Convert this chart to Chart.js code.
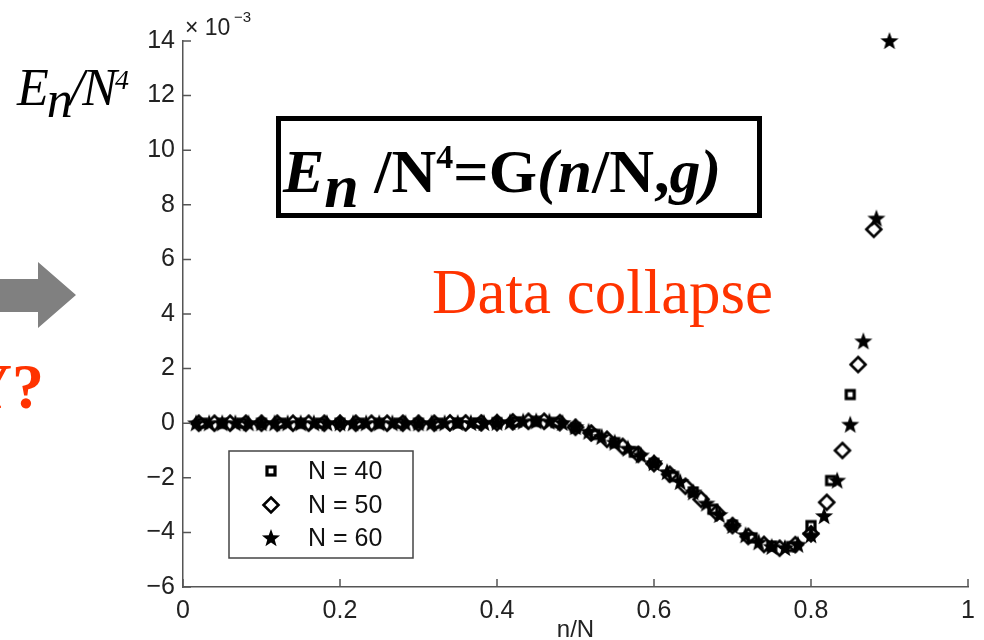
<!DOCTYPE html>
<html>
<head>
<meta charset="utf-8">
<script src="https://cdn.jsdelivr.net/npm/chart.js@4"></script>
<style>
html, body { margin: 0; padding: 0; background: #fff; }
#wrap { position: relative; width: 984px; height: 640px; }
</style>
</head>
<body>
<div id="wrap"><canvas id="grafica" width="984" height="640"></canvas></div>
<script>
// E_n / N^4 in units of 1e-3, for n = 1 .. N-6
var values40 = [0, 0, 0, 0, 0, 0, 0, 0, 0, 0, 0, 0, 0, 0.01, 0.01, 0.02, 0.05, 0.07, 0.03,
    -0.16, -0.41, -0.71, -1.06, -1.47, -1.95, -2.52, -3.15, -3.73, -4.2, -4.5, -4.52, -3.75, -2.1, 1.05];
var values50 = [0, 0, 0, 0, 0, 0, 0, 0, 0, 0, 0, 0, 0, 0, 0, 0, 0.01, 0.01, 0.01, 0.02, 0.05, 0.07, 0.07, 0.02,
    -0.15, -0.36, -0.59, -0.85, -1.14, -1.48, -1.87, -2.31, -2.79, -3.28, -3.75, -4.15, -4.44, -4.58, -4.45,
    -4.05, -2.9, -1.0, 2.15, 7.1];
var values60 = [0, 0, 0, 0, 0, 0, 0, 0, 0, 0, 0, 0, 0, 0, 0, 0, 0, 0, 0, 0, 0.01, 0.01, 0.01, 0.02, 0.04, 0.06,
    0.07, 0.06, 0.01, -0.14, -0.31, -0.5, -0.71, -0.93, -1.18, -1.46, -1.79, -2.15, -2.53, -2.94, -3.36, -3.76,
    -4.1, -4.36, -4.53, -4.57, -4.45, -4.1, -3.4, -2.1, -0.05, 3.0, 7.5, 14.0];
var seriesN = [40, 50, 60];
var seriesLabels = ['N = 40', 'N = 50', 'N = 60'];
var xTicks = [0, 0.2, 0.4, 0.6, 0.8, 1];
var yTicks = [-6, -4, -2, 0, 2, 4, 6, 8, 10, 12, 14];

function toPoints(values, N) {
    return values.map(function (v, i) { return { x: (i + 1) / N, y: v }; });
}

// marker images (MATLAB style: hollow square, hollow diamond, filled star)
function makeMarker(kind) {
    var c = document.createElement('canvas');
    c.width = 22; c.height = 22;
    var g = c.getContext('2d');
    g.strokeStyle = '#000';
    g.fillStyle = '#000';
    if (kind === 'square') {
        g.lineWidth = 3.2;
        g.strokeRect(7, 7, 8, 8);
    } else if (kind === 'diamond') {
        g.lineWidth = 2.6;
        g.beginPath();
        g.moveTo(11, 3.5); g.lineTo(18.5, 11); g.lineTo(11, 18.5); g.lineTo(3.5, 11);
        g.closePath();
        g.stroke();
    } else {
        g.beginPath();
        for (var k = 0; k < 10; k++) {
            var r = k % 2 === 0 ? 9.5 : 3.9;
            var a = -Math.PI / 2 + k * Math.PI / 5;
            g.lineTo(11 + r * Math.cos(a), 11.5 + r * Math.sin(a));
        }
        g.closePath();
        g.fill();
    }
    return c;
}
var markers = [makeMarker('square'), makeMarker('diamond'), makeMarker('star')];

var fontSans = '"Liberation Sans", Arial, sans-serif';
var fontSerif = '"Liberation Serif", "Times New Roman", serif';

// ticks pointing into the plot, like MATLAB
var inwardTicks = {
    id: 'inwardTicks',
    afterDraw: function (chart) {
        var ctx = chart.ctx, area = chart.chartArea;
        var xs = chart.scales.x, ys = chart.scales.y;
        ctx.save();
        ctx.strokeStyle = '#555';
        ctx.lineWidth = 1.5;
        ctx.beginPath();
        xTicks.forEach(function (t) {
            var px = xs.getPixelForValue(t);
            ctx.moveTo(px, area.bottom); ctx.lineTo(px, area.bottom - 8);
        });
        yTicks.forEach(function (t) {
            var py = ys.getPixelForValue(t);
            ctx.moveTo(area.left, py); ctx.lineTo(area.left + 8, py);
        });
        ctx.stroke();
        ctx.restore();
    }
};

// legend box inside the axes, bottom-left
var boxLegend = {
    id: 'boxLegend',
    afterDraw: function (chart) {
        var ctx = chart.ctx, area = chart.chartArea;
        var left = area.left + 46, top = area.top + 410;
        ctx.save();
        ctx.fillStyle = '#fff';
        ctx.fillRect(left, top, 184, 107);
        ctx.strokeStyle = '#444';
        ctx.lineWidth = 1.5;
        ctx.strokeRect(left, top, 184, 107);
        ctx.font = '25px ' + fontSans;
        ctx.fillStyle = '#111';
        ctx.textBaseline = 'middle';
        var rows = [20, 54, 87];
        for (var i = 0; i < seriesLabels.length; i++) {
            var m = markers[i];
            ctx.drawImage(m, left + 42 - m.width / 2, top + rows[i] - m.height / 2);
            ctx.fillText(seriesLabels[i], left + 79, top + rows[i] + 1);
        }
        ctx.restore();
    }
};

function drawRuns(ctx, x, y, runs) {
    runs.forEach(function (r) {
        ctx.font = r.font;
        x += r.dx || 0;
        ctx.fillText(r.t, x, y + (r.dy || 0));
        x += ctx.measureText(r.t).width;
    });
}

// slide annotations around the plot
var annotations = {
    id: 'annotations',
    afterDraw: function (chart) {
        var ctx = chart.ctx;
        ctx.save();
        // grey arrow at the left edge
        ctx.fillStyle = '#808080';
        ctx.beginPath();
        ctx.moveTo(0, 279); ctx.lineTo(38, 279); ctx.lineTo(38, 262); ctx.lineTo(76, 295);
        ctx.lineTo(38, 328); ctx.lineTo(38, 312); ctx.lineTo(0, 312);
        ctx.closePath();
        ctx.fill();

        ctx.fillStyle = '#ff3300';
        ctx.textAlign = 'right';
        ctx.textBaseline = 'alphabetic';
        ctx.font = 'bold 64px ' + fontSerif;
        ctx.fillText('Y?', 44, 408);

        ctx.textAlign = 'left';
        ctx.font = '63px ' + fontSerif;
        ctx.fillText('Data collapse', 432, 313);

        // y label
        ctx.fillStyle = '#000';
        var iS = 'italic 52px ' + fontSerif;
        drawRuns(ctx, 17, 105, [
            { t: 'E', font: iS },
            { t: 'n', font: iS, dy: 12, dx: -2 },
            { t: '/', font: iS, dx: -3 },
            { t: 'N', font: iS, dx: -2 },
            { t: '4', font: 'italic 28px ' + fontSerif, dy: -16, dx: -2 }
        ]);

        // exponent of the y axis
        ctx.fillStyle = '#222';
        ctx.font = '23px ' + fontSans;
        ctx.fillText('\u00d7 10', 185, 35);
        ctx.font = '15px ' + fontSans;
        ctx.fillText('\u22123', 234, 22);

        // boxed formula
        ctx.strokeStyle = '#000';
        ctx.lineWidth = 5;
        ctx.strokeRect(278.5, 118.5, 481, 97);
        ctx.fillStyle = '#000';
        var b = 'bold 62px ' + fontSerif, bi = 'italic bold 62px ' + fontSerif;
        drawRuns(ctx, 283, 192, [
            { t: 'E', font: bi },
            { t: 'n', font: bi, dy: 15 },
            { t: ' /N', font: b },
            { t: '4', font: 'bold 34px ' + fontSerif, dy: -24 },
            { t: '=G', font: b },
            { t: '(', font: bi },
            { t: 'n', font: bi },
            { t: '/N,', font: b },
            { t: 'g', font: bi },
            { t: ')', font: bi }
        ]);
        ctx.restore();
    }
};

var ctx = document.getElementById('grafica').getContext('2d');
var chart = new Chart(ctx, {
    type: 'scatter',
    data: {
        datasets: [
            { label: seriesLabels[0], data: toPoints(values40, seriesN[0]), pointStyle: markers[0], order: 3 },
            { label: seriesLabels[1], data: toPoints(values50, seriesN[1]), pointStyle: markers[1], order: 2 },
            { label: seriesLabels[2], data: toPoints(values60, seriesN[2]), pointStyle: markers[2], order: 1 }
        ]
    },
    options: {
        responsive: false,
        animation: false,
        clip: false,
        layout: { padding: { left: 0, top: 41, right: 16, bottom: 0 } },
        elements: { point: { radius: 6 } },
        scales: {
            x: {
                type: 'linear',
                min: 0,
                max: 1,
                grid: { display: false, drawTicks: false },
                border: { display: true, color: '#555', width: 1.5 },
                afterBuildTicks: function (scale) {
                    scale.ticks = xTicks.map(function (v) { return { value: v }; });
                },
                afterFit: function (scale) { scale.height = 53; },
                ticks: {
                    autoSkip: false,
                    maxRotation: 0,
                    padding: 9,
                    color: '#222',
                    font: { family: fontSans, size: 25 },
                    callback: function (v) { return String(Number(v.toFixed(1))); }
                },
                title: {
                    display: true,
                    text: 'n/N',
                    color: '#222',
                    font: { family: fontSans, size: 24, lineHeight: 0.8 },
                    padding: { top: 0, bottom: 0 }
                }
            },
            y: {
                type: 'linear',
                min: -6,
                max: 14,
                grid: { display: false, drawTicks: false },
                border: { display: true, color: '#555', width: 1.5 },
                afterBuildTicks: function (scale) {
                    scale.ticks = yTicks.map(function (v) { return { value: v }; });
                },
                afterFit: function (scale) { scale.width = 183; },
                ticks: {
                    autoSkip: false,
                    padding: 8,
                    color: '#222',
                    font: { family: fontSans, size: 25 },
                    callback: function (v) { return String(v).replace('-', '\u2212'); }
                }
            }
        },
        plugins: {
            legend: { display: false },
            tooltip: { enabled: false }
        }
    },
    plugins: [inwardTicks, boxLegend, annotations]
});
</script>
</body>
</html>
